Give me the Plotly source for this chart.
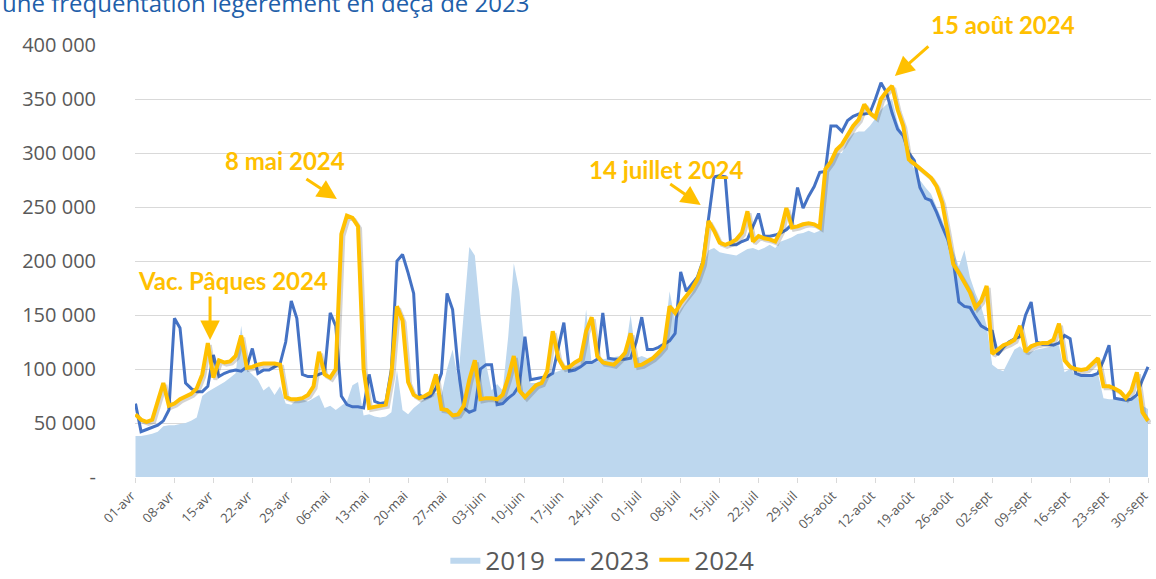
import plotly.graph_objects as go

# ---------------- data ----------------
tick_labels = ["01-avr", "08-avr", "15-avr", "22-avr", "29-avr", "06-mai", "13-mai", "20-mai",
               "27-mai", "03-juin", "10-juin", "17-juin", "24-juin", "01-juil", "08-juil",
               "15-juil", "22-juil", "29-juil", "05-août", "12-août", "19-août", "26-août",
               "02-sept", "09-sept", "16-sept", "23-sept", "30-sept"]

# daily values in thousands, 01-avr .. 30-sept (183 days)
v2019 = [38, 38, 39, 40, 42, 47, 48, 48, 49, 50, 52, 55,
         75, 79, 82, 85, 88, 92, 96, 140, 100, 95, 90, 80,
         84, 76, 84, 68, 67, 72, 72, 70, 73, 76, 64, 66,
         62, 66, 70, 85, 88, 57, 58, 56,
         55, 56, 60, 99, 62, 58, 64, 68, 73, 80, 78, 76,
         100, 118, 90, 150, 213, 205, 150, 105, 80, 86, 80, 130, 198, 172, 115, 87,
         87, 90, 93, 96, 98, 100, 101, 102, 104, 155, 105, 107,
         109, 110, 111, 112, 115, 150, 110, 112, 110, 112, 115, 125,
         172, 145, 155, 162, 170, 180, 195, 210, 212, 208, 207, 206,
         205, 208, 211, 212, 210, 212, 215, 212, 218, 220, 222, 225,
         226, 228, 226, 228, 280, 290, 300, 300, 312, 318, 320, 320,
         325, 332, 340, 345, 350, 328, 315, 295, 285, 275, 268, 262,
         250, 238, 224, 210, 195, 210, 185, 170, 158, 140, 104, 100,
         98, 108, 118, 121, 115, 116, 118, 119, 120, 121, 122, 97,
         100, 95, 95, 95, 95, 96, 73, 72, 72, 72, 72, 72, 75, 66, 63]

v2023 = [68, 42, 44, 46, 48, 52, 62, 147, 138, 87, 82, 79,
         79, 84, 113, 93, 96, 98, 99, 98, 102, 119, 96, 99,
         99, 102, 105, 125, 163, 147, 95, 93, 93, 95, 97, 152,
         140, 75, 67, 65, 65, 64, 95, 70,
         68, 69, 100, 200, 206, 189, 170, 76, 73, 75, 82, 96,
         170, 155, 100, 64, 60, 62, 100, 104, 104, 67, 68, 73, 77, 85, 130, 90,
         91, 92, 93, 96, 118, 143, 98, 99, 102, 106, 106, 109,
         152, 110, 109, 109, 109, 110, 125, 148, 118, 118, 120, 123,
         126, 133, 190, 172, 178, 185, 200, 238, 278, 279, 278, 215,
         215, 218, 220, 232, 244, 223, 223, 224, 226, 229, 234, 268,
         249, 260, 269, 282, 283, 325, 325, 320, 330, 334, 336, 336,
         337, 350, 365, 356, 337, 322, 316, 300, 293, 268, 258, 256,
         245, 232, 220, 200, 162, 158, 157, 148, 140, 137, 135, 113,
         120, 125, 128, 130, 150, 162, 125, 123, 123, 122, 124, 131,
         128, 96, 94, 94, 94, 96, 108, 122, 73, 72, 71, 72, 76, 90, 102]

v2024 = [58, 53, 51, 53, 70, 87, 66, 68, 72, 75, 77, 82,
         95, 124, 92, 108, 106, 107, 112, 131, 101, 102, 104, 105,
         105, 105, 104, 74, 72, 72, 73, 76, 84, 116, 95, 92,
         100, 225, 242, 240, 232, 100, 64, 65,
         66, 67, 95, 158, 145, 88, 76, 73, 75, 78, 95, 63,
         62, 57, 58, 66, 90, 108, 72, 73, 73, 72, 76, 92, 112, 80, 74, 80,
         85, 87, 98, 135, 110, 101, 102, 106, 109, 135, 148, 112,
         106, 105, 104, 109, 115, 133, 103, 104, 107, 110, 115, 121,
         158, 152, 161, 168, 174, 183, 198, 237, 228, 217, 215, 217,
         220, 226, 246, 218, 223, 221, 220, 218, 228, 249, 231, 232,
         234, 235, 234, 231, 285, 292, 303, 308, 317, 325, 331, 345,
         337, 333, 350, 357, 362, 340, 325, 294, 290, 286, 282, 277,
         269, 254, 226, 197, 189, 180, 171, 157, 163, 177, 114, 118,
         122, 124, 127, 140, 116, 121, 123, 124, 124, 127, 142, 108,
         102, 100, 99, 100, 105, 110, 84, 84, 82, 79, 73, 80, 97, 60, 52]

days = list(range(len(v2019)))
tick_vals = list(range(0, len(v2019), 7))
y_ticks = [0, 50000, 100000, 150000, 200000, 250000, 300000, 350000, 400000]
y_text = ["-", "50 000", "100 000", "150 000", "200 000", "250 000", "300 000", "350 000", "400 000"]

C19 = "#BDD7EE"
C23 = "#4472C4"
C24 = "#FFC000"
GRAY = "#595959"

X_RANGE = [-0.09, 182.54]
Y_RANGE = [0, 400000]
# drop shadow of the 2024 line: same data on an overlay axis pair shifted by ~2 px
SH_X = 0.36      # days  (~2 px)
SH_Y = 1900      # value (~2 px)

y19 = [v * 1000 for v in v2019]
y23 = [v * 1000 for v in v2023]
y24 = [v * 1000 for v in v2024]

fig = go.Figure()
fig.add_trace(go.Scatter(x=days, y=y19, name="2019", mode="lines",
                         line=dict(width=0, color=C19), fill="tozeroy", fillcolor=C19))
fig.add_trace(go.Scatter(x=days, y=y23, name="2023", mode="lines",
                         line=dict(width=3, color=C23)))
fig.add_trace(go.Scatter(x=days, y=y24, name="shadow", mode="lines", showlegend=False,
                         hoverinfo="skip", line=dict(width=4, color="rgba(60,60,60,0.22)"),
                         xaxis="x2", yaxis="y2"))
fig.add_trace(go.Scatter(x=days, y=y24, name="2024", mode="lines",
                         line=dict(width=4, color=C24), xaxis="x3", yaxis="y3"))

ann_font = dict(family="Lato", size=24, color=C24)
arrow = dict(text="", showarrow=True, arrowhead=2, arrowsize=1.3, arrowwidth=3, arrowcolor=C24)
annotations = [
    dict(text="<b>Vac. Pâques 2024</b>", x=17.5, y=182000, showarrow=False, font=ann_font),
    dict(text="<b>8 mai 2024</b>", x=26.9, y=292600, showarrow=False, font=ann_font),
    dict(text="<b>14 juillet 2024</b>", x=95.4, y=284300, showarrow=False, font=ann_font),
    dict(text="<b>15 août 2024</b>", x=155.9, yref="paper", y=1.0486, yanchor="middle",
         showarrow=False, font=ann_font),
    dict(x=13.4, y=126800, ax=0, ay=-45, **arrow),
    dict(x=36.2, y=257400, ax=-32, ay=-21, **arrow),
    dict(x=101.6, y=251800, ax=-32, ay=-22, **arrow),
    dict(x=136.5, y=371300, ax=35, ay=-31, **arrow),
    dict(text="une fréquentation légèrement en deçà de 2023", xref="paper", yref="paper",
         x=-0.1329, y=1.0995, xanchor="left", yanchor="middle", showarrow=False,
         font=dict(family="Open Sans", size=24, color="#1F5FAA")),
]

fig.update_layout(
    width=1156, height=579,
    margin=dict(l=135, r=5, t=45, b=102, autoexpand=False),
    paper_bgcolor="white", plot_bgcolor="white",
    showlegend=True,
    hovermode=False,
    legend=dict(orientation="h", x=0.46, y=-0.192, xanchor="center", yanchor="middle",
                font=dict(family="Open Sans", size=26, color=GRAY), itemwidth=30,
                bgcolor="rgba(0,0,0,0)"),
    annotations=annotations,
    font=dict(family="Open Sans", color=GRAY),
    xaxis2=dict(overlaying="x", range=[X_RANGE[0] - SH_X, X_RANGE[1] - SH_X], visible=False),
    yaxis2=dict(overlaying="y", range=[Y_RANGE[0] + SH_Y, Y_RANGE[1] + SH_Y], visible=False),
    xaxis3=dict(overlaying="x", range=X_RANGE, visible=False),
    yaxis3=dict(overlaying="y", range=Y_RANGE, visible=False),
)
fig.update_layout(
    xaxis=dict(range=X_RANGE, tickmode="array", tickvals=tick_vals, ticktext=tick_labels,
               tickangle=-45, tickfont=dict(size=13, color=GRAY), showgrid=False,
               ticks="outside", ticklen=5, tickcolor="#D9D9D9", showline=False, zeroline=False,
               automargin=False, ticklabelshift=-4),
    yaxis=dict(range=Y_RANGE, tickmode="array", tickvals=y_ticks, ticktext=y_text,
               tickfont=dict(size=20, color=GRAY), showgrid=True, gridcolor="#D9D9D9",
               gridwidth=1, zeroline=False, showline=False, ticks="", ticklabelstandoff=38,
               automargin=False),
)

fig.write_html("out.html", config={"displayModeBar": False},
               post_script="document.body.style.margin='0';")
